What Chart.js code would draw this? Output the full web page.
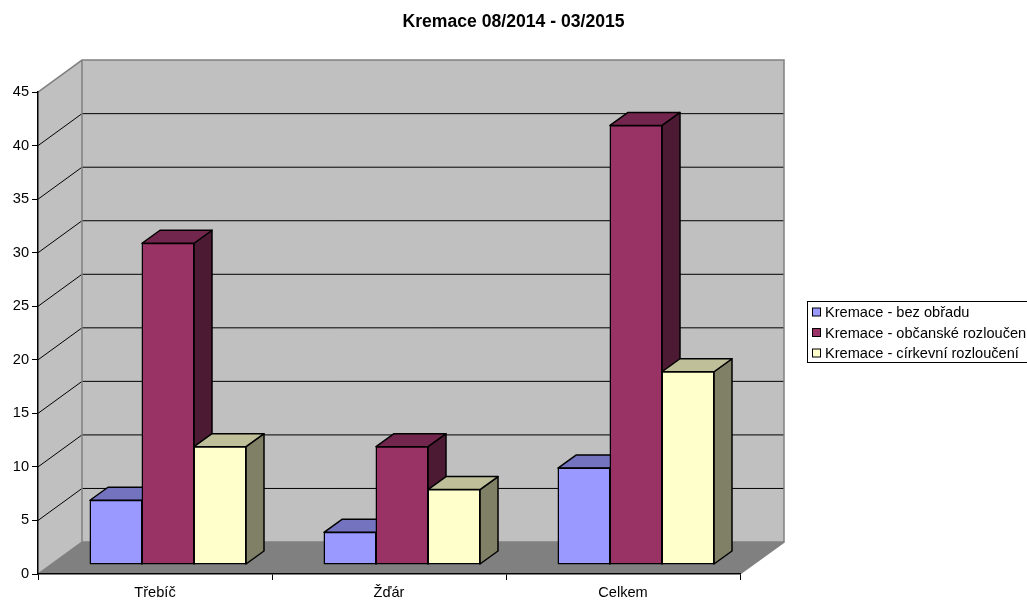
<!DOCTYPE html>
<html lang="cs">
<head>
  <meta charset="UTF-8">
  <title>Kremace 08/2014 - 03/2015</title>
  <script src="https://cdn.jsdelivr.net/npm/chart.js"></script>
  <style>
    html, body { margin: 0; padding: 0; background: #fff; overflow: hidden; }
    canvas { display: block; }
  </style>
</head>
<body>
  <canvas id="chart" width="1027" height="601"></canvas>
  <script>
    const categories = ['Třebíč', 'Žďár', 'Celkem'];
    const seriesNames = ['Kremace - bez obřadu', 'Kremace - občanské rozloučení', 'Kremace - církevní rozloučení'];
    const bezObradu = [6, 3, 9];
    const obcanske = [30, 11, 41];
    const cirkevni = [11, 7, 18];

    const fronts = ['#9999FF', '#993366', '#FFFFCC'];
    const tops = ['#7373BF', '#73264D', '#BFBF99'];
    const sides = ['#4D4D80', '#4D1A33', '#808066'];

    const font = '"Liberation Sans", Arial, sans-serif';
    const wallDepth = { x: 44, y: -32 };  // front of the floor to the back wall
    const barShift = { x: 13, y: -9.5 };  // bars stand this far into the floor
    const barDepth = { x: 18, y: -13 };

    function poly(ctx, pts, fill, stroke, lw) {
      ctx.beginPath();
      pts.forEach((p, i) => i ? ctx.lineTo(p[0], p[1]) : ctx.moveTo(p[0], p[1]));
      ctx.closePath();
      if (fill) { ctx.fillStyle = fill; ctx.fill(); }
      if (stroke) { ctx.strokeStyle = stroke; ctx.lineWidth = lw; ctx.lineJoin = 'round'; ctx.stroke(); }
    }

    // boxed legend, runs off the right edge like the original
    function drawLegend(chart) {
      const { ctx } = chart;
      ctx.save();
      ctx.strokeStyle = '#000';
      ctx.lineWidth = 1;
      ctx.strokeRect(807.5, 301.5, 240, 61);
      ctx.font = '14.6px ' + font;
      ctx.textBaseline = 'middle';
      chart.data.datasets.forEach((ds, i) => {
        const cy = 312.5 + i * 20.5;
        ctx.fillStyle = fronts[i];
        ctx.fillRect(812.5, cy - 4.5, 8, 8);
        ctx.strokeRect(812.5, cy - 4.5, 8, 8);
        ctx.fillStyle = '#000';
        ctx.fillText(ds.label, 825, cy + 0.5);
      });
      ctx.restore();
    }

    const walls = {
      id: 'walls',
      // reserve the right hand side as a layout box, so the title stays centred on the page
      start(chart) {
        Chart.layouts.addBox(chart, {
          position: 'right',
          weight: 0,
          fullSize: false,
          options: {},
          isHorizontal() { return false; },
          update(maxWidth, maxHeight) { this.width = 287; this.height = maxHeight; },
          draw() { drawLegend(chart); }
        });
      },
      // walls and floor, behind everything
      beforeDraw(chart) {
        const { ctx, scales: { x, y } } = chart;
        const l = x.left, r = x.right, dx = wallDepth.x, dy = wallDepth.y;
        const y0 = y.getPixelForValue(0), yTop = y.getPixelForValue(45);
        ctx.save();
        poly(ctx, [[l + dx, yTop + dy], [r + dx, yTop + dy], [r + dx, y0 + dy], [l + dx, y0 + dy]], '#C0C0C0');
        poly(ctx, [[l, yTop], [l + dx, yTop + dy], [l + dx, y0 + dy], [l, y0]], '#C0C0C0');
        poly(ctx, [[l, y0], [l + dx, y0 + dy], [r + dx, y0 + dy], [r, y0]], '#808080');
        ctx.lineWidth = 1;
        ctx.strokeStyle = '#000';
        y.ticks.forEach(t => {
          if (t.value === 0 || t.value === 45) return;
          const py = y.getPixelForValue(t.value);
          ctx.beginPath();
          ctx.moveTo(l, py);
          ctx.lineTo(l + dx, py + dy);
          ctx.lineTo(r + dx, py + dy);
          ctx.stroke();
        });
        ctx.strokeStyle = '#808080';
        ctx.lineWidth = 1.5;
        ctx.beginPath();
        ctx.moveTo(l, yTop);
        ctx.lineTo(l + dx, yTop + dy);
        ctx.lineTo(r + dx, yTop + dy);
        ctx.lineTo(r + dx, y0 + dy);
        ctx.lineTo(r, y0);
        ctx.moveTo(l + dx, yTop + dy);
        ctx.lineTo(l + dx, y0 + dy);
        ctx.lineTo(r + dx, y0 + dy);
        ctx.moveTo(l + dx, y0 + dy);
        ctx.lineTo(l, y0);
        ctx.stroke();
        ctx.restore();
      },
      // tops and right sides first, the library then paints the fronts over them
      beforeDatasetsDraw(chart) {
        const { ctx } = chart;
        ctx.save();
        ctx.translate(barShift.x, barShift.y);
        const dx = barDepth.x, dy = barDepth.y;
        chart.data.datasets.forEach((ds, i) => {
          chart.getDatasetMeta(i).data.forEach(bar => {
            const a = bar.x - bar.width / 2, b = bar.x + bar.width / 2;
            poly(ctx, [[b, bar.y], [b + dx, bar.y + dy], [b + dx, bar.base + dy], [b, bar.base]], sides[i], '#000', 1.5);
            poly(ctx, [[a, bar.y], [a + dx, bar.y + dy], [b + dx, bar.y + dy], [b, bar.y]], tops[i], '#000', 1.5);
          });
        });
      },
      afterDatasetsDraw(chart) {
        chart.ctx.restore();
      }
    };

    const values = [bezObradu, obcanske, cirkevni];

    new Chart(document.getElementById('chart'), {
      type: 'bar',
      data: {
        labels: categories,
        datasets: seriesNames.map((name, i) => ({
          label: name,
          data: values[i],
          backgroundColor: fronts[i],
          borderColor: '#000',
          borderWidth: 1.5,
          borderSkipped: false,
          inflateAmount: 0.5,
          clip: false
        }))
      },
      options: {
        responsive: false,
        animation: false,
        events: [],
        categoryPercentage: 156 / 234,
        barPercentage: 1,
        plugins: {
          legend: { display: false },
          tooltip: { enabled: false },
          title: {
            display: true,
            text: 'Kremace 08/2014 - 03/2015',
            color: '#000',
            font: { family: font, size: 17.6, weight: 'bold' },
            padding: { top: 12, bottom: 59 }
          }
        },
        scales: {
          x: {
            afterFit(s) { s.height = 27; },
            border: { display: true, color: '#000', width: 1.5 },
            grid: { drawOnChartArea: false, drawTicks: true, tickLength: 6, color: '#000' },
            ticks: { color: '#000', font: { family: font, size: 14.6 }, padding: 4, maxRotation: 0 }
          },
          y: {
            min: 0,
            max: 45,
            afterFit(s) { s.width = 38; },
            border: { display: true, color: '#000', width: 1.5 },
            grid: { drawOnChartArea: false, drawTicks: true, tickLength: 6, color: '#000' },
            ticks: { stepSize: 5, color: '#000', font: { family: font, size: 14.6 }, padding: 3 }
          }
        }
      },
      plugins: [walls]
    });
  </script>
</body>
</html>
